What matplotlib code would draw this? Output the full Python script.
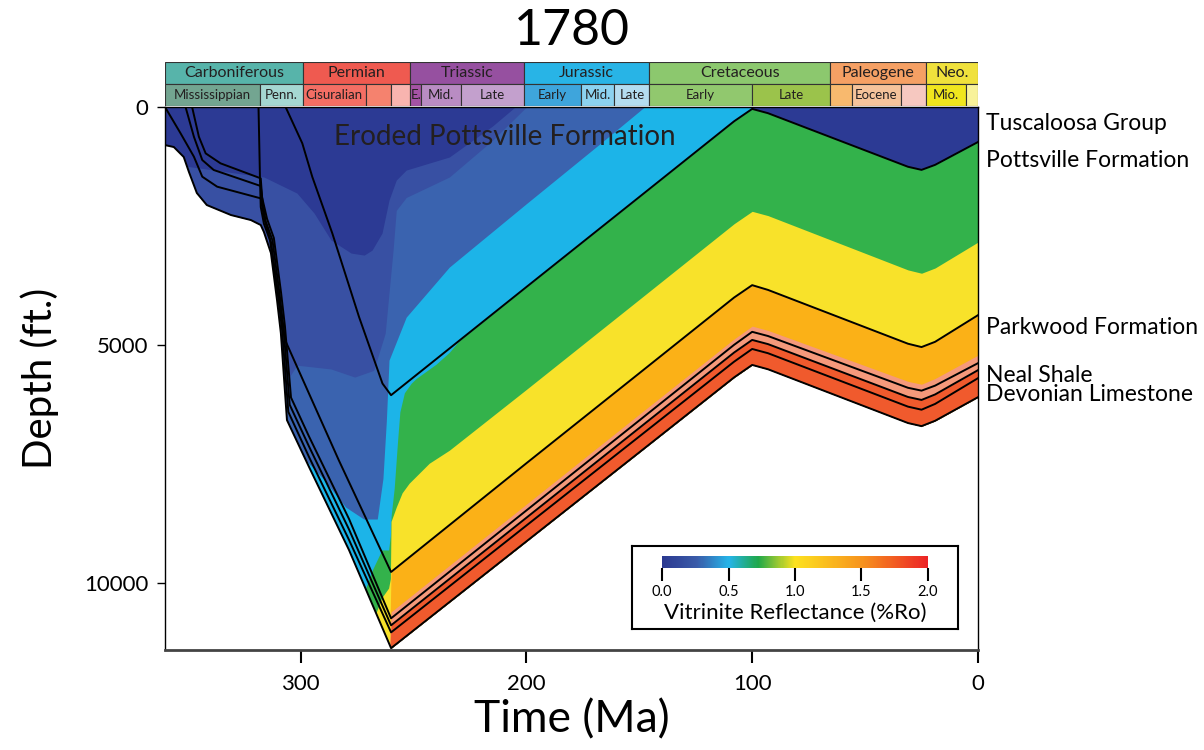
import numpy as np
import matplotlib.pyplot as plt
from matplotlib.colors import LinearSegmentedColormap, Normalize
from matplotlib.cm import ScalarMappable

plt.rcParams['font.family'] = ['Lato', 'DejaVu Sans']

# ---- horizons (age in Ma, depth in ft) ----
ptop_age = [306.6, 299.2, 294.8, 285.9, 274.1, 263.7, 259.9, 200, 150, 108, 100, 93, 31, 25, 19, 0]
ptop_dep = [0, 763, 1464, 2654, 4405, 5805, 6050, 3780, 1890, 300, 40, 130, 1255, 1320, 1215, 735]

pw_age = [318.6, 318.2, 317.9, 317.6, 316.2, 313.5, 310.5, 308.3, 306.8, 283.0, 259.9, 200, 150, 108, 100, 93, 31, 25, 19, 0]
pw_dep = [0, 900, 1600, 2100, 2450, 2800, 3750, 4450, 4895, 7420, 9762, 7480, 5590, 4000, 3740, 3840, 4970, 5040, 4930, 4370]

l1_age = [348.0, 345.0, 342.0, 335.4, 317.6, 317.0, 314.8, 311.8, 308.6, 306.9, 304.2, 296.2, 278.5, 259.9, 200, 150, 108, 100, 93, 31, 25, 19, 0]
l1_dep = [0, 624, 973, 1183, 1498, 1900, 2350, 2750, 3900, 4600, 6100, 6920, 8650, 10735, 8471, 6581, 4993, 4720, 4808, 5895, 5955, 5850, 5378]

l2_age = [350.9, 347.2, 343.5, 338.4, 317.6, 316.5, 315.4, 312.4, 309.2, 307.5, 304.8, 296.2, 278.5, 259.9, 200, 150, 108, 100, 93, 31, 25, 19, 0]
l2_dep = [0, 624, 1113, 1323, 1659, 2100, 2400, 2800, 3950, 4650, 6250, 7130, 8870, 10882, 8624, 6739, 5155, 4890, 4978, 6088, 6150, 6035, 5525]

l3_age = [360, 353.1, 347.2, 343.5, 336.9, 317.6, 316.0, 313.0, 309.8, 308.1, 305.4, 296.2, 278.5, 259.9, 200, 150, 108, 100, 93, 31, 25, 19, 0]
l3_dep = [0, 553, 1043, 1463, 1673, 1918, 2350, 2850, 4000, 4700, 6400, 7350, 9090, 11030, 8788, 6918, 5347, 5080, 5169, 6291, 6355, 6234, 5693]

base_age = [360, 356.1, 351.7, 349.4, 345.9, 341.5, 330.8, 322.0, 317.6, 316.2, 313.1, 310.4, 308.7, 306.0, 296.2, 278.5,
            259.9, 200, 150, 108, 100, 93, 31, 25, 19, 0]
base_dep = [800, 840, 1050, 1365, 1806, 2058, 2268, 2373, 2478, 2625, 3066, 4053, 4746, 6573, 7560, 9303,
            11361, 9121, 7251, 5677, 5415, 5506, 6635, 6700, 6588, 6092]

# ---- vitrinite reflectance zone boundaries (age, depth) ----
b1_age = [360, 348, 316.2, 301.6, 294, 286.5, 277.6, 271.8, 268.3, 263.9, 260.8, 257.6, 253.2, 234.1, 215, 205,
          101, 100, 93, 31, 25, 19, 0]
b1_dep = [1176, 1260, 1470, 1807, 2227, 2794, 3067, 3109, 3004, 2647, 1954, 1534, 1324, 1050, 400, 0,
          0, 40, 130, 1255, 1320, 1215, 735]

b2_age = [360, 330, 305, 301.6, 286.5, 276, 267.6, 262.5, 259, 257.6, 253.2, 234.1, 215, 200,
          101, 100, 93, 31, 25, 19, 0]
b2_dep = [6000, 5600, 5670, 5420, 5500, 5670, 5530, 4750, 3000, 2170, 1900, 1470, 700, 0,
          0, 40, 130, 1255, 1320, 1215, 735]

b3_age = [360, 300, 290, 280, 272, 266, 263.5, 262, 260.8, 253.2, 234.1, 200, 167.6, 147.7,
          101, 100, 93, 31, 25, 19, 0]
b3_dep = [9000, 7300, 7800, 8400, 8650, 8650, 7800, 6600, 5315, 4412, 3361, 2030, 780, 0,
          0, 40, 130, 1255, 1320, 1215, 735]

b4_age = [360, 275, 268, 264, 261, 260.2, 259.9, 258.5, 257, 256, 254, 251, 248.8, 240, 234.1, 230,
          200, 150, 108, 100, 93, 31, 25, 19, 0]
b4_dep = [13000, 10600, 9700, 9300, 9300, 9000, 8600, 8000, 7000, 6400, 6000, 5800, 5700, 5400, 5150, 4920,
          3780, 1890, 300, 40, 130, 1255, 1320, 1215, 735]

b5_age = [360, 275, 268, 264, 261, 260.2, 259.9, 257.6, 255, 251.9, 243, 234.1,
          200, 150, 108, 100, 93, 31, 25, 19, 0]
b5_dep = [14000, 11800, 10800, 10300, 10100, 9900, 8700, 8400, 8100, 7899, 7479, 7206,
          5930, 4040, 2450, 2190, 2280, 3420, 3490, 3380, 2836]

b6_age = [360, 262, 260.6, 259.9, 200, 150, 108, 100, 93, 31, 25, 19, 0]
b6_dep = [15000, 12500, 11400, 9762, 7480, 5590, 4000, 3740, 3840, 4970, 5040, 4930, 4370]

b7_age = [360, 262, 260.5, 259.9, 200, 150, 108, 100, 93, 31, 25, 19, 0]
b7_dep = [15000, 12500, 11400, 10600, 8340, 6450, 4870, 4600, 4690, 5760, 5820, 5700, 5210]

b8_age = [360, 262, 260.5, 259.9, 200, 150, 108, 100, 93, 31, 25, 19, 0]
b8_dep = [15000, 12500, 11450, 10882, 8624, 6739, 5155, 4890, 4978, 6088, 6150, 6035, 5525]

zone_colors = ['#2c3a94', '#3850a3', '#3a63af', '#1cb4e8', '#33b24b', '#f8e22a', '#fbb117', '#f5997b', '#f05a2d']

# ---- geologic time scale ----
periods = ['Carboniferous', 'Permian', 'Triassic', 'Jurassic', 'Cretaceous', 'Paleogene', 'Neo.']
period_start = [360, 299, 251.4, 201, 145.5, 65.5, 23]
period_end = [299, 251.4, 201, 145.5, 65.5, 23, 0]
period_colors = ['#57b4aa', '#ef5a50', '#9650a0', '#28b4e6', '#8cc86e', '#f5a064', '#f0e13c']

epochs = ['Mississippian', 'Penn.', 'Cisuralian', '', '', 'E.', 'Mid.', 'Late', 'Early', 'Mid.', 'Late',
          'Early', 'Late', '', 'Eocene', '', 'Mio.', '']
epoch_start = [360, 318, 299, 271, 260, 251.4, 246.5, 229, 201, 176, 161, 145.5, 100, 65.5, 56, 34, 23, 5.3]
epoch_end = [318, 299, 271, 260, 251.4, 246.5, 229, 201, 176, 161, 145.5, 100, 65.5, 56, 34, 23, 5.3, 0]
epoch_colors = ['#73a591', '#a5d7d2', '#f46e64', '#f5826e', '#f8b4af', '#a553a5', '#b98cc3', '#c3a0cd',
                '#3ea5dc', '#8cd2f0', '#b4dcf0', '#91c86e', '#9bc34b', '#f8b96e', '#f5c39b', '#f6c8c0',
                '#f0e61e', '#f8f29a']

# ---- figure ----
fig = plt.figure(figsize=(12.04, 7.5), dpi=100)
L, R = 165 / 1204, 978 / 1204
ax = fig.add_axes([L, 1 - 650 / 750, R - L, (650 - 107) / 750])

t = np.linspace(0, 360, 3601)


def curve(ages, deps):
    return np.interp(t, ages[::-1], deps[::-1])


base = curve(base_age, base_dep)
bounds = [np.zeros_like(t)]
for a, d in [(b1_age, b1_dep), (b2_age, b2_dep), (b3_age, b3_dep), (b4_age, b4_dep),
             (b5_age, b5_dep), (b6_age, b6_dep), (b7_age, b7_dep), (b8_age, b8_dep)]:
    bounds.append(np.maximum(curve(a, d), bounds[-1]))

for b, c in zip(bounds, zone_colors):
    ax.fill_between(t, np.minimum(b, base), base, color=c, lw=0)

for a, d in [(ptop_age, ptop_dep), (pw_age, pw_dep), (l1_age, l1_dep),
             (l2_age, l2_dep), (l3_age, l3_dep), (base_age, base_dep)]:
    ax.plot(a, d, color='k', lw=1.4, solid_joinstyle='round')

ax.set_xlim(360, 0)
ax.set_ylim(11400, 0)
ax.set_xticks([300, 200, 100, 0])
ax.set_yticks([0, 5000, 10000])
ax.tick_params(axis='x', length=9, width=1.5, labelsize=16, pad=8)
ax.tick_params(axis='y', length=6, width=1, labelsize=16, pad=6)
for s in ['left', 'right', 'top']:
    ax.spines[s].set_linewidth(1)
ax.spines['bottom'].set_linewidth(2)
ax.spines['bottom'].set_color('#444444')
ax.set_xlabel('Time (Ma)', fontsize=32, labelpad=4)
ax.set_ylabel('Depth (ft.)', fontsize=29, labelpad=18)

ax.text(285, 630, 'Eroded Pottsville Formation', fontsize=20, color='#231f20', va='center', ha='left')

ytr = ax.get_yaxis_transform()
for lab, y in [('Tuscaloosa Group', 336), ('Pottsville Formation', 1113), ('Parkwood Formation', 4620),
               ('Neal Shale', 5628), ('Devonian Limestone', 6027)]:
    ax.text(1.01, y, lab, transform=ytr, fontsize=16.5, va='center', ha='left')

fig.text(571.5 / 1204, 1 - 31 / 750, '1780', fontsize=36, ha='center', va='center')

# ---- time scale header ----
hax = fig.add_axes([L, 1 - 106 / 750, R - L, 44 / 750])
hax.set_xlim(360, 0)
hax.set_ylim(0, 2)
hax.axis('off')
hax.barh(1.5, np.array(period_start) - np.array(period_end), left=period_end, height=1,
         color=period_colors, edgecolor='#333333', lw=0.8)
hax.barh(0.5, np.array(epoch_start) - np.array(epoch_end), left=epoch_end, height=1,
         color=epoch_colors, edgecolor='#333333', lw=0.8)
for n, s, e in zip(periods, period_start, period_end):
    hax.text((s + e) / 2, 1.5, n, ha='center', va='center', fontsize=11.5, color='#231f20')
for n, s, e in zip(epochs, epoch_start, epoch_end):
    hax.text((s + e) / 2, 0.5, n, ha='center', va='center', fontsize=9.5, color='#231f20')

# ---- colour bar box ----
box = fig.add_axes([632 / 1204, 1 - 629 / 750, 326 / 1204, 83 / 750])
box.set_xticks([])
box.set_yticks([])
for s in box.spines.values():
    s.set_linewidth(1.5)
box.text(0.5, 0.2, 'Vitrinite Reflectance (%Ro)', transform=box.transAxes, ha='center', va='center', fontsize=16)

ro_cmap = LinearSegmentedColormap.from_list('ro', [(0, '#2b3990'), (0.13, '#3a5ba9'), (0.25, '#25b4e8'),
                                                   (0.36, '#1fa84a'), (0.5, '#fde21f'), (0.75, '#f7941d'),
                                                   (1.0, '#ec2326')])
cax = fig.add_axes([662 / 1204, 1 - 568 / 750, 266 / 1204, 12 / 750])
cb = fig.colorbar(ScalarMappable(Normalize(0, 2), ro_cmap), cax=cax, orientation='horizontal',
                  ticks=[0, 0.5, 1.0, 1.5, 2.0])
cb.outline.set_visible(False)
cb.ax.set_xticklabels(['0.0', '0.5', '1.0', '1.5', '2.0'])
cb.ax.tick_params(length=9, width=1.5, labelsize=10.5, pad=3)

fig.savefig('out.png', dpi=100)
